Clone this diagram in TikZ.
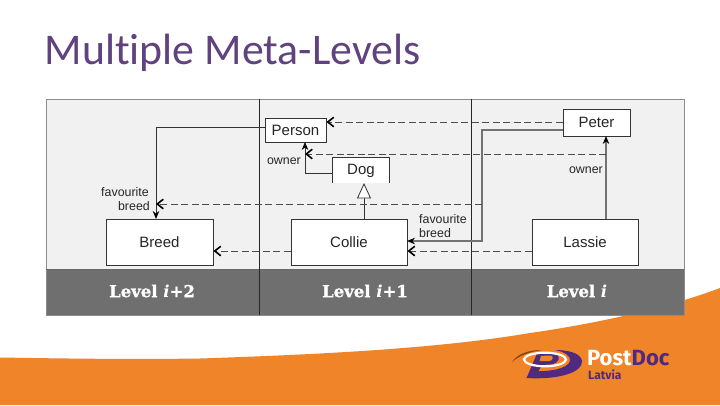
\documentclass[tikz,border=0pt]{standalone}
\usepackage{fontspec}
\setmainfont{Liberation Sans}
\newfontfamily\titlefont[Ligatures={NoCommon,NoRequired,NoContextual}]{Carlito}
\newfontfamily\bandfont[BoldFeatures={FakeBold=1.2}]{DejaVu Serif}
\newfontfamily\logofont{Fira Sans}
\usetikzlibrary{arrows.meta,positioning}
\definecolor{orangebg}{HTML}{F08428}
\definecolor{purplet}{HTML}{5F427F}
\definecolor{purplel}{HTML}{4F2A80}
\definecolor{panel}{HTML}{F1F1F1}
\definecolor{band}{HTML}{6F6F6F}
\definecolor{edge}{HTML}{333333}
\tikzset{
  x=1pt,y=-1pt,
  umlbox/.style={draw=edge,fill=white,line width=1pt,inner sep=0pt,font=\fontsize{15}{17}\selectfont,text=black!85},
  assoc/.style={draw=edge,line width=1pt,-{Stealth[length=8pt,width=6.5pt,color=black]}},
  owneredge/.style={assoc,draw=black!55,line width=1.2pt},
  inst/.style={draw=black!70,line width=0.95pt,dash pattern=on 7pt off 3.5pt,-{Straight Barb[length=6pt,width=9.5pt,line width=1.6pt,color=black]}},
  lab/.style={inner sep=0pt,font=\fontsize{12.4}{14}\selectfont,text=black!85},
  bandlab/.style={inner sep=0pt,text=white,font=\bandfont\bfseries\fontsize{16.5}{18}\selectfont},
  sep/.style={draw=black!85,line width=1pt},
}
\begin{document}
\begin{tikzpicture}
\useasboundingbox (0,0) rectangle (720,405);
\fill[white] (0,0) rectangle (720,405);
% orange footer
\fill[orangebg] (0,357.5) .. controls (60,358.5) and (130,359.5) .. (200,358.5)
  .. controls (300,355) and (430,350) .. (530,333)
  .. controls (600,323) and (670,307) .. (720,288) -- (720,405) -- (0,405) -- cycle;
% title
\node[anchor=base west,inner sep=0pt,text=purplet,font=\titlefont\fontsize{43.8}{48}\selectfont] (title) at (44.5,64.5) {Multiple Meta-Levels};
% panel
\fill[panel] (46,99) rectangle (684,269);
\fill[band] (46,269) rectangle (684,315);
\draw[black!45,line width=0.9pt] (46,99) rectangle (684,315);
\draw[black!60,line width=0.9pt] (46,269) -- (684,269);
\draw[sep] (259,99) -- (259,315);
\draw[sep] (471,99) -- (471,315);
% boxes
\node[umlbox,minimum width=61pt,minimum height=24pt] (person) at (295.5,130) {Person};
\node[umlbox,minimum width=107pt,minimum height=46pt] (breed) at (159.5,242) {Breed};
\node[umlbox,minimum width=116pt,minimum height=46pt] (collie) at (349,242) {Collie};
\node[umlbox,minimum width=106pt,minimum height=46pt] (lassie) at (585,242) {Lassie};
\node[umlbox,minimum width=67pt,minimum height=27pt] (peter) at (596.5,122.5) {Peter};
% Dog: box open at the bottom
\node[inner sep=0pt,minimum width=56pt,minimum height=25pt,fill=white,font=\fontsize{15}{17}\selectfont,text=black!85] (dog) at (361,170.5) {Dog};
\draw[edge,line width=1pt] (dog.south west) -- (dog.north west) -- (dog.north east) -- (dog.south east);
% bend points
\coordinate (pb) at (156,127);
\coordinate (breedtop) at (156,219);
\coordinate (dogl) at (333,173);
\coordinate (db) at (305,173);
\coordinate (persb) at (305,142);
\coordinate (petl) at (563,130);
\coordinate (pe1) at (482,130);
\coordinate (pe2) at (482,241);
\coordinate (colr) at (407,241);
\coordinate (ownerpt) at (606,154);
\coordinate (ownerend) at (305,154);
\coordinate (favpt) at (482,204);
\coordinate (favend) at (156,204);
\coordinate (lastop) at (606,219);
\coordinate (petbot) at (606,136);
% solid associations
\draw[assoc] (person.west |- pb) -- (pb) -- (breedtop);
\draw[assoc] (dogl) -- (db) -- (persb);
\draw[owneredge] (petl) -- (pe1) -- (pe2) -- (colr);
\draw[owneredge] (lastop) -- (petbot);
% generalisation
\coordinate (coltop) at (364,219);
\coordinate (gentip) at (364,184);
\coordinate (genbase) at (364,198);
\draw[edge,line width=1pt] (coltop) -- (genbase);
\draw[edge,line width=0.8pt,fill=white] (gentip) -- (357.5,198) -- (370.5,198) -- cycle;
% dashed instance-of
\draw[inst] (peter.west |- 0,122) -- (person.east |- 0,122);
\draw[inst] (ownerpt) -- (ownerend);
\draw[inst] (favpt) -- (favend);
\draw[inst] (collie.west |- 0,251) -- (breed.east |- 0,251);
\draw[inst] (lassie.west |- 0,251) -- (collie.east |- 0,251);
% labels
\node[lab,anchor=base east,align=right] (o1) at (301,164) {owner};
\node[lab,anchor=base east] (o2) at (603,173) {owner};
\node[lab,anchor=base east] (f1) at (149,196) {favourite};
\node[lab,anchor=base east] (b1) at (150,210) {breed};
\node[lab,anchor=base west] (f2) at (419,223) {favourite};
\node[lab,anchor=base west] (b2) at (419,237) {breed};
% band labels
\node[bandlab] (l1) at (152,291) {Level \textit{i}+2};
\node[bandlab] (l2) at (365,291) {Level \textit{i}+1};
\node[bandlab] (l3) at (577,291) {Level \textit{i}};
% logo
\fill[black!45!orangebg] (512,362) .. controls (518,353) and (530,350) .. (542,350) .. controls (530,352) and (520,355) .. (512,362) -- cycle;
\fill[purplel] (526,378) .. controls (560,380) and (583,372) .. (582,361)
  .. controls (581,353) and (568,350) .. (555,350)
  .. controls (565,352) and (571,356) .. (570,361)
  .. controls (568,369) and (548,372) .. (533,371) -- cycle;
\fill[purplel] (537,353.5) -- (554,353) .. controls (562,354) and (560,364) .. (550,364.5) -- (542,365) -- (535,377) -- (527,377) -- cycle;
\fill[orangebg] (541,355.8) -- (551,355.6) .. controls (554,356) and (553,361) .. (549,361) -- (539.5,361.2) -- cycle;
\draw[white,line width=2.2pt] (545,359.5) ellipse [x radius=21,y radius=6.8];
% logo text
\node[anchor=base west,inner sep=0pt,font=\logofont\bfseries\fontsize{22}{24}\selectfont] (pd) at (587,365) {\textcolor{white}{Post}\textcolor{purplel}{Doc}};
\node[anchor=base west,inner sep=0pt,text=purplel,font=\logofont\bfseries\fontsize{12}{13}\selectfont] (lv) at (588,379.5) {Latvia};
\end{tikzpicture}
\end{document}
